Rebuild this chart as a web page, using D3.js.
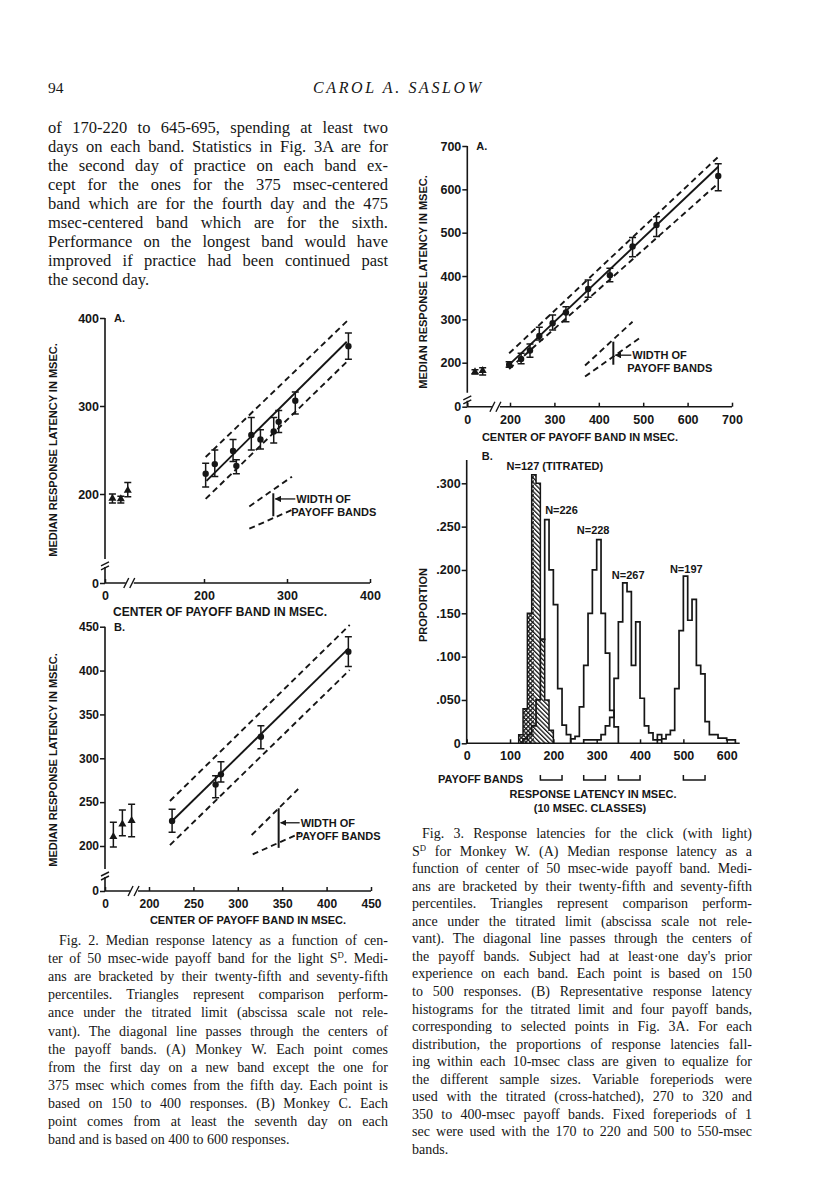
<!DOCTYPE html>
<html>
<head>
<meta charset="utf-8">
<script src="https://cdn.jsdelivr.net/npm/d3@7"></script>
<style>
body { margin: 0; background: #fff; }
text { fill: #161616; }
.lab { font-family: "Liberation Sans", Arial, sans-serif; font-weight: bold; }
.serif { font-family: "Liberation Serif", "Times New Roman", serif; }
</style>
</head>
<body>
<div id="page"></div>
<script>
//page size
const W = 816, H = 1200;

//Fig. 2A - Monkey W (msec)
var w2Center = [202, 213, 235, 239, 257, 268, 284, 290, 310, 374];
var w2Median = [223, 234, 249, 232, 267, 262, 271, 282, 306, 368];
var w2Q75 = [235, 250, 262, 239, 287, 273, 287, 295, 316, 383];
var w2Q25 = [208, 220, 237, 223, 250, 251, 258, 270, 291, 353];
var w2TriPos = [15, 32, 46];
var w2TriMedian = [190, 189, 204];
var w2TriQ75 = [200, 195, 213];
var w2TriQ25 = [180, 180, 194];
var w2LineX = [203, 372], w2LineY = [215, 373];
var w2DashX = [202, 374], w2UpperY = [242, 398], w2LowerY = [189, 352];
var w2InsetUpX = [254.6, 306], w2InsetUpY = [172, 219.7];
var w2InsetLoX = [254.6, 307], w2InsetLoY = [122, 165];
var w2Bar = {x: 283.5, lo: 150, hi: 200.8};
var w2XTicks = [0, 200, 300, 400];
var w2YTicks = [0, 200, 300, 400];

//Fig. 2B - Monkey C
var c2Center = [226, 275, 281, 326, 424.5];
var c2Median = [228.5, 270, 281.7, 324.6, 421.5];
var c2Q75 = [242, 280, 296, 337, 438.6];
var c2Q25 = [215.6, 255, 273, 311, 404.5];
var c2TriPos = [38, 79, 121];
var c2TriMedian = [210.6, 225, 228.8];
var c2TriQ75 = [227, 241, 247.5];
var c2TriQ25 = [196, 211.7, 210.6];
var c2LineX = [226, 424.5], c2LineY = [228.5, 425];
var c2DashX = [223.6, 426], c2UpperY = [251.3, 452], c2LowerY = [201, 400.7];
var c2InsetUpX = [315.6, 368], c2InsetUpY = [212.5, 265];
var c2InsetLoX = [316.8, 370], c2InsetLoY = [163, 214.5];
var c2Bar = {x: 346, lo: 191.7, hi: 243};
var c2XTicks = [0, 200, 250, 300, 350, 400, 450];
var c2YTicks = [0, 200, 250, 300, 350, 400, 450];

//Fig. 3A - click with light, Monkey W
var w3Center = [196, 225, 245, 266, 296, 326, 376, 425, 476, 530, 669];
var w3Median = [191, 208.5, 228, 261.6, 291, 316, 370, 402, 468, 518, 631];
var w3Q75 = [202, 221.6, 243, 281.7, 310, 329, 391, 418, 489, 537, 659];
var w3Q25 = [179, 194.7, 212.5, 252.4, 275.5, 294.6, 351, 387, 444.6, 491, 597];
var w3TriPos = [36, 72];
var w3TriMedian = [158.5, 164];
var w3TriQ75 = [167.7, 177];
var w3TriQ25 = [148.5, 144.6];
var w3LineX = [200, 669], w3LineY = [194.7, 652];
var w3DashX = [196, 669], w3UpperY = [221.7, 675], w3LowerY = [171.6, 614];
var w3InsetUpX = [369, 476], w3InsetUpY = [187, 294.6];
var w3InsetLoX = [369, 491], w3InsetLoY = [137, 256];
var w3Bar = {x: 432.7, lo: 190.8, hi: 248.5};
var w3XTicks = [0, 200, 300, 400, 500, 600, 700];
var w3YTicks = [0, 200, 300, 400, 500, 600, 700];

//Fig. 3B - proportion per 10 msec class, first class start in msec
var titStart = 120;
var titProp = [0.01, 0.04, 0.15, 0.31, 0.30, 0.12, 0.05, 0.015];
var n226Start = 130;
var n226Prop = [0.005, 0.01, 0.02, 0.05, 0.12, 0.258, 0.2, 0.16, 0.063, 0.021, 0.01];
var n228Start = 240;
var n228Prop = [0.005, 0.008, 0.042, 0.09, 0.15, 0.2, 0.235, 0.15, 0.104, 0.038, 0.019];
var n267Start = 270;
var n267Prop = [0.004, 0.004, 0.004, 0.004, 0.01, 0.02, 0.03, 0.075, 0.14, 0.185, 0.175, 0.09, 0.14, 0.052, 0.02, 0.012, 0.004, 0.004];
var n197Start = 440;
var n197Prop = [0.01, 0.005, 0.01, 0.015, 0.063, 0.13, 0.193, 0.142, 0.166, 0.09, 0.08, 0.025, 0.01, 0.01, 0.006, 0.006, 0.004, 0.004];
var histLabels = ["N=127 (TITRATED)", "N=226", "N=228", "N=267", "N=197"];
var histLabelX = [92, 181, 254, 335, 469];
var histLabelY = [0.315, 0.265, 0.2415, 0.19, 0.197];
var bandLo = [170, 270, 350, 500];
var bandHi = [220, 320, 400, 550];
var histXTicks = [0, 100, 200, 300, 400, 500, 600];
var histYTicks = [0, 0.05, 0.1, 0.15, 0.2, 0.25, 0.3];

//running text
var paraLines = [
  "of 170-220 to 645-695, spending at least two",
  "days on each band. Statistics in Fig. 3A are for",
  "the second day of practice on each band ex-",
  "cept for the ones for the 375 msec-centered",
  "band which are for the fourth day and the 475",
  "msec-centered band which are for the sixth.",
  "Performance on the longest band would have",
  "improved if practice had been continued past",
  "the second day."
];
var cap2Lines = [
  "Fig. 2. Median response latency as a function of cen-",
  "ter of 50 msec-wide payoff band for the light S^D. Medi-",
  "ans are bracketed by their twenty-fifth and seventy-fifth",
  "percentiles. Triangles represent comparison perform-",
  "ance under the titrated limit (abscissa scale not rele-",
  "vant). The diagonal line passes through the centers of",
  "the payoff bands. (A) Monkey W. Each point comes",
  "from the first day on a new band except the one for",
  "375 msec which comes from the fifth day. Each point is",
  "based on 150 to 400 responses. (B) Monkey C. Each",
  "point comes from at least the seventh day on each",
  "band and is based on 400 to 600 responses."
];
var cap3Lines = [
  "Fig. 3. Response latencies for the click (with light)",
  "S^D for Monkey W. (A) Median response latency as a",
  "function of center of 50 msec-wide payoff band. Medi-",
  "ans are bracketed by their twenty-fifth and seventy-fifth",
  "percentiles. Triangles represent comparison perform-",
  "ance under the titrated limit (abscissa scale not rele-",
  "vant). The diagonal line passes through the centers of",
  "the payoff bands. Subject had at least\u00b7one day's prior",
  "experience on each band. Each point is based on 150",
  "to 500 responses. (B) Representative response latency",
  "histograms for the titrated limit and four payoff bands,",
  "corresponding to selected points in Fig. 3A. For each",
  "distribution, the proportions of response latencies fall-",
  "ing within each 10-msec class are given to equalize for",
  "the different sample sizes. Variable foreperiods were",
  "used with the titrated (cross-hatched), 270 to 320 and",
  "350 to 400-msec payoff bands. Fixed foreperiods of 1",
  "sec were used with the 170 to 220 and 500 to 550-msec",
  "bands."
];

var svg = d3.select("#page").append("svg")
  .attr("width", W)
  .attr("height", H);
svg.append("rect").attr("width", W).attr("height", H).attr("fill", "#fff");

var defs = svg.append("defs");
defs.append("marker")
  .attr("id", "arrow")
  .attr("viewBox", "0 0 10 10")
  .attr("refX", 9).attr("refY", 5)
  .attr("markerWidth", 5).attr("markerHeight", 5)
  .attr("orient", "auto")
  .append("path").attr("d", "M0,0 L10,5 L0,10 Z").attr("fill", "#161616");
//hatching for the titrated histogram
defs.append("pattern")
  .attr("id", "hatch")
  .attr("patternUnits", "userSpaceOnUse")
  .attr("width", 3.2).attr("height", 3.2)
  .attr("patternTransform", "rotate(-45)")
  .append("rect").attr("width", 1.3).attr("height", 3.2).attr("fill", "#161616");
defs.append("pattern")
  .attr("id", "hatch2")
  .attr("patternUnits", "userSpaceOnUse")
  .attr("width", 3.2).attr("height", 3.2)
  .attr("patternTransform", "rotate(45)")
  .append("rect").attr("width", 1.3).attr("height", 3.2).attr("fill", "#161616");

//header
svg.append("text").attr("class", "serif")
  .attr("x", 48).attr("y", 93)
  .style("font-size", "15.5px")
  .text("94");
svg.append("text").attr("class", "serif")
  .attr("x", 397).attr("y", 93)
  .attr("text-anchor", "middle")
  .style("font-size", "16px").style("font-style", "italic")
  .attr("textLength", 168).attr("lengthAdjust", "spacing")
  .text("CAROL A. SASLOW");

//justified text block (word spacing), last line left ragged
function textBlock(lines, x0, y0, step, width, size, indent) {
  lines.forEach(function(line, i) {
    var ind = (i == 0) ? indent : 0;
    var t = svg.append("text").attr("class", "serif")
      .attr("x", x0 + ind)
      .attr("y", y0 + i * step)
      .style("font-size", size + "px");
    var parts = line.split("^D");
    parts.forEach(function(p, j) {
      var sp = t.append("tspan").text(p);
      if (j > 0) sp.attr("dy", size * 0.35);
      if (j < parts.length - 1) {
        t.append("tspan").attr("dy", -size * 0.35)
          .style("font-size", (size * 0.62) + "px").text("D");
      }
    });
    if (i < lines.length - 1) {
      var natural = t.node().getComputedTextLength();
      var gaps = line.split(" ").length - 1;
      if (gaps > 0) t.style("word-spacing", ((width - ind - natural) / gaps) + "px");
    }
  });
}
textBlock(paraLines, 48, 133, 19, 340, 16.5, 0);
textBlock(cap2Lines, 48, 945, 18.1, 340, 14, 11);
textBlock(cap3Lines, 412, 838, 17.55, 340, 14, 10);

//one median/quartile panel with broken axes
function scatterPanel(c) {
  var g = svg.append("g");
  var x = c.x, y = c.y;
  var x0 = x(0), y0 = y(0);
  var xb = x(c.xBreak), yb = y(c.yBreak);

  //axis lines with breaks
  g.append("path")
    .attr("d", "M" + x0 + "," + y0 + "V" + (yb + 4) + "M" + x0 + "," + (yb - 4) + "V" + y(c.yMax)
      + "M" + x0 + "," + y0 + "H" + (xb - 4) + "M" + (xb + 4) + "," + y0 + "H" + x(c.xMax))
    .attr("fill", "none").attr("stroke", "#161616").attr("stroke-width", 1.6);
  g.append("path")
    .attr("d", "M" + (x0 - 4) + "," + (yb + 3) + "L" + (x0 + 4) + "," + (yb - 1)
      + "M" + (x0 - 4) + "," + (yb + 7) + "L" + (x0 + 4) + "," + (yb + 3)
      + "M" + (xb - 6) + "," + (y0 + 5) + "L" + (xb - 1) + "," + (y0 - 5)
      + "M" + (xb) + "," + (y0 + 5) + "L" + (xb + 5) + "," + (y0 - 5))
    .attr("fill", "none").attr("stroke", "#161616").attr("stroke-width", 1.4);

  //ticks and labels
  var yAxis = d3.axisLeft(y).tickValues(c.yTicks).tickSize(5).tickPadding(1);
  var gy = g.append("g").attr("transform", "translate(" + x0 + ",0)").call(yAxis);
  var xAxis = d3.axisBottom(x).tickValues(c.xTicks).tickSize(-4).tickPadding(8);
  var gx = g.append("g").attr("transform", "translate(0," + y0 + ")").call(xAxis);
  [gy, gx].forEach(function(a) {
    a.select(".domain").remove();
    a.selectAll("line").attr("stroke", "#161616").attr("stroke-width", 1.5);
    a.selectAll("text").attr("class", "lab")
      .style("font-size", c.tickSize + "px").attr("fill", "#161616");
  });

  g.append("text").attr("class", "lab")
    .attr("x", x0 + 9).attr("y", y(c.yMax) + 4)
    .style("font-size", "11px").text(c.letter);
  g.append("text").attr("class", "lab")
    .attr("x", c.xTitleX).attr("y", c.xTitleY)
    .attr("text-anchor", "middle")
    .style("font-size", c.titleSize + "px")
    .text("CENTER OF PAYOFF BAND IN MSEC.");
  g.append("text").attr("class", "lab")
    .attr("transform", "translate(" + c.yTitleX + "," + c.yTitleY + ") rotate(-90)")
    .attr("text-anchor", "middle")
    .style("font-size", "11px")
    .text("MEDIAN RESPONSE LATENCY IN MSEC.");

  //diagonal through band centres and band edges
  var line = d3.line().x(function(d) { return x(d[0]); }).y(function(d) { return y(d[1]); });
  g.append("path").attr("d", line(d3.zip(c.lineX, c.lineY)))
    .attr("fill", "none").attr("stroke", "#161616").attr("stroke-width", 1.9);
  [c.upperY, c.lowerY].forEach(function(ys) {
    g.append("path").attr("d", line(d3.zip(c.dashX, ys)))
      .attr("fill", "none").attr("stroke", "#161616").attr("stroke-width", 1.9)
      .attr("stroke-dasharray", "6,4");
  });

  //band width key
  [[c.insUpX, c.insUpY], [c.insLoX, c.insLoY]].forEach(function(k) {
    g.append("path").attr("d", line(d3.zip(k[0], k[1])))
      .attr("fill", "none").attr("stroke", "#161616").attr("stroke-width", 1.9)
      .attr("stroke-dasharray", "6,4");
  });
  g.append("line")
    .attr("x1", x(c.bar.x)).attr("x2", x(c.bar.x))
    .attr("y1", y(c.bar.lo)).attr("y2", y(c.bar.hi))
    .attr("stroke", "#161616").attr("stroke-width", 2);
  var ky = y((c.bar.lo + c.bar.hi) / 2) + c.keyDy;
  g.append("line")
    .attr("x1", x(c.bar.x) + c.arrowLen).attr("x2", x(c.bar.x) + 2)
    .attr("y1", ky).attr("y2", ky)
    .attr("stroke", "#161616").attr("stroke-width", 1.3)
    .attr("marker-end", "url(#arrow)");
  g.append("text").attr("class", "lab")
    .attr("x", x(c.bar.x) + c.arrowLen + 1).attr("y", ky + 4)
    .style("font-size", "11px").text("WIDTH OF");
  g.append("text").attr("class", "lab")
    .attr("x", x(c.bar.x) + c.arrowLen - 4).attr("y", ky + 17)
    .style("font-size", "11px").text("PAYOFF BANDS");

  //error bars
  function bars(xs, lo, hi) {
    xs.forEach(function(v, i) {
      var px = x(v);
      g.append("path")
        .attr("d", "M" + px + "," + y(lo[i]) + "V" + y(hi[i])
          + "M" + (px - 3.5) + "," + y(lo[i]) + "H" + (px + 3.5)
          + "M" + (px - 3.5) + "," + y(hi[i]) + "H" + (px + 3.5))
        .attr("fill", "none").attr("stroke", "#161616").attr("stroke-width", 1.5);
    });
  }
  bars(c.centers, c.q25, c.q75);
  bars(c.triPos, c.triQ25, c.triQ75);
  g.selectAll(".pt").data(d3.zip(c.centers, c.median)).enter()
    .append("circle")
    .attr("cx", function(d) { return x(d[0]); })
    .attr("cy", function(d) { return y(d[1]); })
    .attr("r", 3.2).attr("fill", "#161616");
  g.selectAll(".tri").data(d3.zip(c.triPos, c.triMedian)).enter()
    .append("path")
    .attr("d", d3.symbol(d3.symbolTriangle).size(28))
    .attr("transform", function(d) { return "translate(" + x(d[0]) + "," + y(d[1]) + ")"; })
    .attr("fill", "#161616");
}

scatterPanel({
  x: d3.scaleLinear().domain([0, 200, 400]).range([105, 204, 370]),
  y: d3.scaleLinear().domain([0, 200, 400]).range([583, 494, 318]),
  xTicks: w2XTicks, yTicks: w2YTicks, xBreak: 50, yBreak: 45, xMax: 400, yMax: 400,
  tickSize: 12.5, titleSize: 12, letter: "A.",
  xTitleX: 220, xTitleY: 616, yTitleX: 57, yTitleY: 450,
  centers: w2Center, median: w2Median, q75: w2Q75, q25: w2Q25,
  triPos: w2TriPos, triMedian: w2TriMedian, triQ75: w2TriQ75, triQ25: w2TriQ25,
  lineX: w2LineX, lineY: w2LineY, dashX: w2DashX, upperY: w2UpperY, lowerY: w2LowerY,
  insUpX: w2InsetUpX, insUpY: w2InsetUpY, insLoX: w2InsetLoX, insLoY: w2InsetLoY,
  bar: w2Bar, arrowLen: 22, keyDy: -6
});

scatterPanel({
  x: d3.scaleLinear().domain([0, 200, 450]).range([105, 149, 371]),
  y: d3.scaleLinear().domain([0, 200, 450]).range([891, 846, 626.7]),
  xTicks: c2XTicks, yTicks: c2YTicks, xBreak: 132, yBreak: 80, xMax: 450, yMax: 450,
  tickSize: 12, titleSize: 11, letter: "B.",
  xTitleX: 248, xTitleY: 924, yTitleX: 57, yTitleY: 760,
  centers: c2Center, median: c2Median, q75: c2Q75, q25: c2Q25,
  triPos: c2TriPos, triMedian: c2TriMedian, triQ75: c2TriQ75, triQ25: c2TriQ25,
  lineX: c2LineX, lineY: c2LineY, dashX: c2DashX, upperY: c2UpperY, lowerY: c2LowerY,
  insUpX: c2InsetUpX, insUpY: c2InsetUpY, insLoX: c2InsetLoX, insLoY: c2InsetLoY,
  bar: c2Bar, arrowLen: 21, keyDy: -8
});

scatterPanel({
  x: d3.scaleLinear().domain([0, 200, 700]).range([467.3, 510, 732]),
  y: d3.scaleLinear().domain([0, 200, 700]).range([406.7, 362.7, 146]),
  xTicks: w3XTicks, yTicks: w3YTicks, xBreak: 134, yBreak: 45, xMax: 700, yMax: 700,
  tickSize: 12.5, titleSize: 11, letter: "A.",
  xTitleX: 580, xTitleY: 441, yTitleX: 427, yTitleY: 282,
  centers: w3Center, median: w3Median, q75: w3Q75, q25: w3Q25,
  triPos: w3TriPos, triMedian: w3TriMedian, triQ75: w3TriQ75, triQ25: w3TriQ25,
  lineX: w3LineX, lineY: w3LineY, dashX: w3DashX, upperY: w3UpperY, lowerY: w3LowerY,
  insUpX: w3InsetUpX, insUpY: w3InsetUpY, insLoX: w3InsetLoX, insLoY: w3InsetLoY,
  bar: w3Bar, arrowLen: 18, keyDy: 1
});

//Fig. 3B histograms
var hx = d3.scaleLinear().domain([0, 600]).range([466.7, 726.7]);
var hy = d3.scaleLinear().domain([0, 0.3]).range([743.3, 483.3]);
var hg = svg.append("g");

function stepPoints(start, props) {
  var pts = [[start, 0]];
  props.forEach(function(p, i) { pts.push([start + 10 * i, p]); });
  pts.push([start + 10 * props.length, 0]);
  return pts;
}
var stepLine = d3.line()
  .x(function(d) { return hx(d[0]); })
  .y(function(d) { return hy(d[1]); })
  .curve(d3.curveStepAfter);

//titrated, cross-hatched
var titPts = stepPoints(titStart, titProp);
hg.append("path").attr("d", stepLine(titPts) + "Z").attr("fill", "url(#hatch)");
defs.append("clipPath").attr("id", "crossClip")
  .append("rect")
  .attr("x", hx(titStart)).attr("width", hx(155) - hx(titStart))
  .attr("y", hy(0.32)).attr("height", hy(0) - hy(0.32));
hg.append("path").attr("d", stepLine(titPts) + "Z")
  .attr("fill", "url(#hatch2)").attr("clip-path", "url(#crossClip)");
hg.append("path").attr("d", stepLine(titPts))
  .attr("fill", "none").attr("stroke", "#161616").attr("stroke-width", 1.5);

[[n226Start, n226Prop], [n228Start, n228Prop], [n267Start, n267Prop], [n197Start, n197Prop]]
  .forEach(function(h) {
    hg.append("path").attr("d", stepLine(stepPoints(h[0], h[1])))
      .attr("fill", "none").attr("stroke", "#161616").attr("stroke-width", 1.7);
  });

//axes
hg.append("path")
  .attr("d", "M" + hx(0) + "," + (hy(0.327)) + "V" + hy(0) + "H" + hx(630))
  .attr("fill", "none").attr("stroke", "#161616").attr("stroke-width", 1.6);
var hyAxis = d3.axisLeft(hy).tickValues(histYTicks).tickSize(5).tickPadding(1)
  .tickFormat(function(d) { return d == 0 ? "0" : d3.format(".3f")(d).slice(1); });
var hxAxis = d3.axisBottom(hx).tickValues(histXTicks).tickSize(-4).tickPadding(8);
var hgy = hg.append("g").attr("transform", "translate(" + hx(0) + ",0)").call(hyAxis);
var hgx = hg.append("g").attr("transform", "translate(0," + hy(0) + ")").call(hxAxis);
[hgy, hgx].forEach(function(a) {
  a.select(".domain").remove();
  a.selectAll("line").attr("stroke", "#161616").attr("stroke-width", 1.5);
  a.selectAll("text").attr("class", "lab").style("font-size", "12.5px").attr("fill", "#161616");
});

hg.append("text").attr("class", "lab")
  .attr("x", hx(0) + 15).attr("y", 460)
  .style("font-size", "11px").text("B.");
histLabels.forEach(function(s, i) {
  hg.append("text").attr("class", "lab")
    .attr("x", hx(histLabelX[i])).attr("y", hy(histLabelY[i]))
    .style("font-size", "11px").text(s);
});
hg.append("text").attr("class", "lab")
  .attr("transform", "translate(427,605) rotate(-90)")
  .attr("text-anchor", "middle")
  .style("font-size", "11px").text("PROPORTION");

//payoff band brackets
hg.append("text").attr("class", "lab")
  .attr("x", 523).attr("y", 783)
  .attr("text-anchor", "end")
  .style("font-size", "11px").text("PAYOFF BANDS");
bandLo.forEach(function(lo, i) {
  hg.append("path")
    .attr("d", "M" + hx(lo) + ",775V780H" + hx(bandHi[i]) + "V775")
    .attr("fill", "none").attr("stroke", "#161616").attr("stroke-width", 1.5);
});
hg.append("text").attr("class", "lab")
  .attr("x", 593).attr("y", 798)
  .attr("text-anchor", "middle")
  .style("font-size", "11px").text("RESPONSE LATENCY IN MSEC.");
hg.append("text").attr("class", "lab")
  .attr("x", 590).attr("y", 812)
  .attr("text-anchor", "middle")
  .style("font-size", "11px").text("(10 MSEC. CLASSES)");
</script>
</body>
</html>
